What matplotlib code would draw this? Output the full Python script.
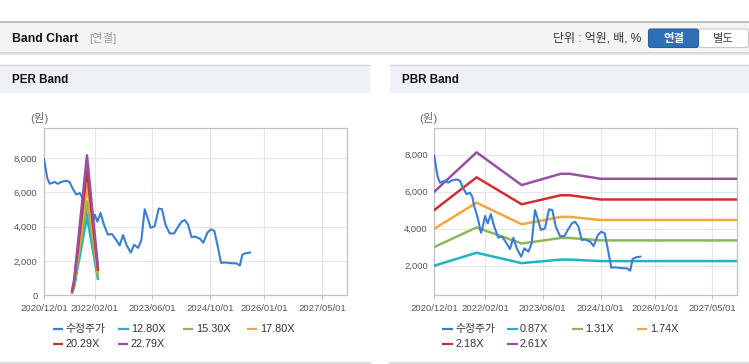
import matplotlib
matplotlib.use("Agg")
import matplotlib.pyplot as plt
import pandas as pd
from matplotlib.patches import Rectangle, FancyBboxPatch

plt.rcParams["font.family"] = ["Liberation Sans", "Noto Sans CJK KR", "DejaVu Sans"]

# --- Data ---
price_dates = [
    "2020-12-01", "2020-12-29", "2021-01-18", "2021-03-01", "2021-03-28", "2021-04-25",
    "2021-06-06", "2021-07-04", "2021-08-02", "2021-08-30", "2021-09-27", "2021-10-17",
    "2021-11-03", "2021-12-01", "2021-12-29", "2022-01-10", "2022-02-02", "2022-02-24",
    "2022-03-22", "2022-04-20", "2022-05-23", "2022-06-26", "2022-08-02", "2022-08-30",
    "2022-09-28", "2022-10-26", "2022-12-02", "2022-12-30", "2023-02-02", "2023-03-01",
    "2023-03-29", "2023-04-20", "2023-05-18", "2023-06-21", "2023-07-25", "2023-08-22",
    "2023-09-20", "2023-10-26", "2023-12-02", "2023-12-30", "2024-02-03", "2024-03-01",
    "2024-03-29", "2024-04-26", "2024-05-24", "2024-07-06", "2024-08-03", "2024-09-09",
    "2024-10-07", "2024-11-05", "2024-12-03", "2024-12-31", "2025-02-03", "2025-03-01",
    "2025-04-13", "2025-05-11", "2025-06-08", "2025-06-28", "2025-07-26", "2025-09-01",
]
price_values = [
    7930, 6810, 6490, 6600, 6490, 6600,
    6670, 6600, 6180, 5870, 5950, 5730,
    5190, 4610, 3780, 4020, 4690, 4290,
    4790, 4110, 3530, 3570, 3210, 2900,
    3510, 2940, 2490, 2940, 2760, 3210,
    5010, 4560, 3930, 4020, 5050, 5010,
    4110, 3600, 3600, 3930, 4290, 4380,
    4110, 3390, 3420, 3300, 3060, 3660,
    3840, 3750, 2850, 1890, 1910, 1890,
    1860, 1860, 1730, 2360, 2450, 2490,
]

per_dates = ["2021-07-26", "2021-08-12", "2021-11-28", "2022-02-28"]
per_1280 = [150, 500, 4580, 960]
per_1530 = [180, 600, 5470, 1150]
per_1780 = [210, 700, 6370, 1330]
per_2029 = [240, 800, 7260, 1500]
per_2279 = [270, 900, 8150, 1660]
per_labels = ["12.80X", "15.30X", "17.80X", "20.29X", "22.79X"]

pbr_dates = ["2020-12-01", "2021-11-22", "2022-12-07", "2023-11-01",
             "2024-01-15", "2024-10-01", "2027-12-31"]
pbr_087 = [2000, 2700, 2140, 2330, 2330, 2250, 2250]
pbr_131 = [3010, 4070, 3200, 3500, 3500, 3370, 3370]
pbr_174 = [4000, 5410, 4240, 4640, 4640, 4470, 4470]
pbr_218 = [5010, 6780, 5320, 5810, 5810, 5580, 5580]
pbr_261 = [6000, 8130, 6360, 6970, 6970, 6700, 6700]
pbr_labels = ["0.87X", "1.31X", "1.74X", "2.18X", "2.61X"]

x_ticks = ["2020-12-01", "2022-02-01", "2023-06-01", "2024-10-01", "2026-01-01", "2027-05-01"]
per_yticks = [0, 2000, 4000, 6000, 8000]
pbr_yticks = [2000, 4000, 6000, 8000]

# --- Style ---
C_PRICE = "#3a7dd2"
BAND_COLORS = ["#22b3c3", "#8fb65a", "#f2a63f", "#cc3131", "#94529f"]
GRID = "#e6e6e6"
FRAME = "#c2c2c2"


def style_axes(ax, ylim, yticks):
    ax.set_xlim(pd.Timestamp("2020-12-01"), pd.Timestamp("2027-11-27"))
    ax.set_ylim(*ylim)
    ax.set_yticks(yticks)
    ax.set_yticklabels([f"{v:,}" for v in yticks])
    xt = pd.to_datetime(x_ticks)
    ax.set_xticks(xt)
    ax.set_xticklabels([d.strftime("%Y/%m/%d") for d in xt])
    ax.grid(True, color=GRID, lw=0.8)
    ax.set_axisbelow(True)
    for s in ax.spines.values():
        s.set_color(FRAME)
        s.set_linewidth(0.9)
    ax.tick_params(axis="x", length=3, color=FRAME, pad=3, labelsize=6.8, labelcolor="#555555")
    ax.tick_params(axis="y", length=0, pad=4.6, labelsize=6.8, labelcolor="#555555")


def draw_legend(bg, labels, colors, slots):
    for (label, color), (mx, my) in zip(zip(labels, colors), slots):
        bg.plot([mx, mx + 10.5], [my, my], color=color, lw=1.6, solid_capstyle="butt")
        bg.text(mx + 13, my, label, fontsize=7.8, color="#333333", va="center", ha="left")


def draw_header(bg, x0, x1, title):
    bg.add_patch(Rectangle((x0, 64.5), x1 - x0, 28.5, fc="#eef2f7", ec="none"))
    bg.plot([x0, x1], [64.5, 64.5], color="#d6d6d6", lw=1)
    bg.text(x0 + 11.5, 80, title, fontsize=8.4, weight="bold", color="#111111", va="center")
    bg.plot([x0, x1], [362.5, 362.5], color="#dcdcdc", lw=1.5)


fig = plt.figure(figsize=(7.49, 3.64), dpi=100)
fig.patch.set_facecolor("white")

# --- Page chrome (pixel coordinates) ---
bg = fig.add_axes([0, 0, 1, 1])
bg.set_xlim(0, 749)
bg.set_ylim(364, 0)
bg.axis("off")

bg.add_patch(Rectangle((0, 22), 749, 30.5, fc="#f4f4f4", ec="none"))
bg.plot([0, 749], [22, 22], color="#b5b5b5", lw=1.2)
bg.plot([0, 749], [52.8, 52.8], color="#d2d2d2", lw=1.2)
bg.plot([0, 749], [54, 54], color="#ececec", lw=1)
bg.text(11.5, 38.5, "Band Chart", fontsize=8.8, weight="bold", color="#111111", va="center")
bg.text(89, 38.5, "[연결]", fontsize=8.2, color="#999999", va="center")
bg.text(641, 38.5, "단위 : 억원, 배, %", fontsize=8.6, color="#333333", va="center", ha="right")
bg.add_patch(FancyBboxPatch((698.5, 29), 50, 18.5, boxstyle="round,pad=0,rounding_size=2.5",
                            fc="white", ec="#c8c8c8", lw=0.8))
bg.add_patch(FancyBboxPatch((648.5, 29), 50, 18.5, boxstyle="round,pad=0,rounding_size=2.5",
                            fc="#2f6fb6", ec="#275f9e", lw=0.8))
bg.text(673.5, 38.5, "연결", fontsize=8.2, weight="bold", color="white", va="center", ha="center")
bg.text(723.5, 38.5, "별도", fontsize=8.2, color="#444444", va="center", ha="center")

draw_header(bg, 0, 370, "PER Band")
draw_header(bg, 390, 749, "PBR Band")
bg.text(39.5, 118, "(원)", fontsize=8.2, color="#666666", va="center", ha="center")
bg.text(428.5, 118, "(원)", fontsize=8.2, color="#666666", va="center", ha="center")

# --- PER Band ---
ax1 = fig.add_axes([44 / 749, (364 - 295.3) / 364, 303 / 749, 167.3 / 364])
style_axes(ax1, (0, 9740), per_yticks)
pd_price = pd.to_datetime(price_dates)
ax1.plot(pd_price, price_values, color=C_PRICE, lw=1.5, zorder=3)
per_bands = [per_1280, per_1530, per_1780, per_2029, per_2279]
for vals, col in zip(per_bands, BAND_COLORS):
    ax1.plot(pd.to_datetime(per_dates), vals, color=col, lw=1.8, zorder=4)

# --- PBR Band ---
ax2 = fig.add_axes([434.3 / 749, (364 - 295.3) / 364, 303 / 749, 167 / 364])
style_axes(ax2, (400, 9430), pbr_yticks)
pbr_bands = [pbr_087, pbr_131, pbr_174, pbr_218, pbr_261]
for vals, col in zip(pbr_bands, BAND_COLORS):
    ax2.plot(pd.to_datetime(pbr_dates), vals, color=col, lw=1.8, zorder=3)
ax2.plot(pd_price, price_values, color=C_PRICE, lw=1.5, zorder=4)

# --- Legends ---
legend_colors = [C_PRICE] + BAND_COLORS
per_slots = [(52.7, 329.3), (118, 329.3), (182.7, 329.3), (246.7, 329.3), (52.7, 344.3), (117.5, 344.3)]
pbr_slots = [(442.3, 329.3), (507, 329.3), (572, 329.3), (636.7, 329.3), (442.3, 344.3), (507, 344.3)]
draw_legend(bg, ["수정주가"] + per_labels, legend_colors, per_slots)
draw_legend(bg, ["수정주가"] + pbr_labels, legend_colors, pbr_slots)

fig.savefig("out.png", dpi=100)
